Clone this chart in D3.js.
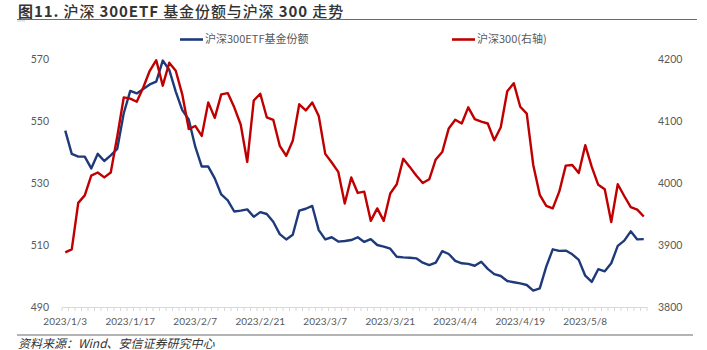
<!DOCTYPE html>
<html>
<head>
<meta charset="utf-8">
<script src="https://cdn.jsdelivr.net/npm/d3@7/dist/d3.min.js"></script>
<style>
  html, body { margin: 0; padding: 0; background: #fff; }
  svg { display: block; }
</style>
</head>
<body>
<svg id="chart" width="707" height="350"></svg>
<script>
// Trading days, 2023-01-03 to 2023-05-19
const dates = [
  "2023/1/3","2023/1/4","2023/1/5","2023/1/6","2023/1/9","2023/1/10","2023/1/11","2023/1/12","2023/1/13","2023/1/16",
  "2023/1/17","2023/1/18","2023/1/19","2023/1/20","2023/1/30","2023/1/31","2023/2/1","2023/2/2","2023/2/3","2023/2/6",
  "2023/2/7","2023/2/8","2023/2/9","2023/2/10","2023/2/13","2023/2/14","2023/2/15","2023/2/16","2023/2/17","2023/2/20",
  "2023/2/21","2023/2/22","2023/2/23","2023/2/24","2023/2/27","2023/2/28","2023/3/1","2023/3/2","2023/3/3","2023/3/6",
  "2023/3/7","2023/3/8","2023/3/9","2023/3/10","2023/3/13","2023/3/14","2023/3/15","2023/3/16","2023/3/17","2023/3/20",
  "2023/3/21","2023/3/22","2023/3/23","2023/3/24","2023/3/27","2023/3/28","2023/3/29","2023/3/30","2023/3/31","2023/4/3",
  "2023/4/4","2023/4/6","2023/4/7","2023/4/10","2023/4/11","2023/4/12","2023/4/13","2023/4/14","2023/4/17","2023/4/18",
  "2023/4/19","2023/4/20","2023/4/21","2023/4/24","2023/4/25","2023/4/26","2023/4/27","2023/4/28","2023/5/4","2023/5/5",
  "2023/5/8","2023/5/9","2023/5/10","2023/5/11","2023/5/12","2023/5/15","2023/5/16","2023/5/17","2023/5/18","2023/5/19"
];

// 沪深300ETF基金份额 (left axis)
const etfShares = [
  546.9, 539.4, 538.5, 538.5, 534.7, 539.4, 537.1, 538.9, 541.0, 552.5,
  559.7, 558.9, 560.3, 561.8, 562.7, 569.5, 566.5, 559.5, 553.5, 550.5,
  541.7, 535.3, 535.3, 531.5, 526.3, 524.4, 520.8, 521.1, 521.5, 519.1,
  520.6, 520.0, 517.5, 513.5, 511.8, 513.3, 521.1, 521.7, 522.6, 514.8,
  511.8, 512.5, 511.1, 511.3, 511.6, 512.5, 511.0, 511.9, 510.0, 509.5,
  508.8, 506.2, 506.0, 505.9, 505.7, 504.3, 503.5, 504.3, 508.0, 507.1,
  504.9, 504.1, 503.9, 503.3, 504.6, 502.3, 500.6, 500.0, 498.4, 498.0,
  497.6, 497.1, 495.3, 496.0, 503.0, 508.6, 508.1, 508.2, 507.0, 505.2,
  500.1, 498.1, 502.2, 501.5, 504.1, 509.7, 511.4, 514.4, 511.8, 511.9
];

// 沪深300 (right axis)
const csi300 = [
  3888, 3893, 3968, 3980, 4012, 4017, 4009, 4017, 4075, 4138,
  4136, 4131, 4154, 4181, 4198, 4157, 4194, 4181, 4143, 4087,
  4092, 4076, 4130, 4105, 4143, 4145, 4122, 4094, 4034, 4133,
  4144, 4106, 4102, 4060, 4044, 4068, 4127, 4117, 4130, 4108,
  4047, 4033, 4018, 3967, 4009, 3984, 3986, 3939, 3959, 3939,
  3983, 3998, 4039, 4026, 4012, 4000, 4006, 4038, 4050, 4088,
  4102, 4096, 4122, 4103, 4099, 4096, 4069, 4090, 4148, 4161,
  4123, 4112, 4029, 3981, 3963, 3959, 3986, 4028, 4029, 4016,
  4061, 4026, 3997, 3990, 3937, 3998, 3979, 3961, 3957, 3946
];

const leftTicks = [490, 510, 530, 550, 570];
const rightTicks = [3800, 3900, 4000, 4100, 4200];
const seriesNames = ["沪深300ETF基金份额", "沪深300(右轴)"];
const title = [
  { t: "图11. ", w: 700 }, { t: "沪深 ", w: 500 }, { t: "300ETF ", w: 700 },
  { t: "基金份额与沪深 ", w: 500 }, { t: "300 ", w: 700 }, { t: "走势", w: 500 }
];
const source = "资料来源：Wind、安信证券研究中心";

const BLUE = "#1f3a7a", RED = "#c00000", LABEL = "#595959";
const FONT = "'Noto Sans CJK SC', 'Noto Sans', sans-serif";
const NUMFONT = "Lato, 'Noto Sans', sans-serif";

const svg = d3.select("#chart");
const plot = { left: 62, right: 647, top: 59, bottom: 307 };

const x = d3.scaleBand().domain(dates).range([plot.left, plot.right]);
const cx = d => x(d) + x.bandwidth() / 2;
const yL = d3.scaleLinear().domain([490, 570]).range([plot.bottom, plot.top]);
const yR = d3.scaleLinear().domain([3800, 4200]).range([plot.bottom, plot.top]);

// Title and rule beneath it
const tt = svg.append("text").attr("x", 18).attr("y", 16.5)
  .attr("font-family", FONT).attr("font-size", 15).attr("letter-spacing", 0.9).attr("fill", "#333");
title.forEach(p => tt.append("tspan").attr("font-weight", p.w).text(p.t));
svg.append("line").attr("x1", 17).attr("x2", 697).attr("y1", 19.5).attr("y2", 19.5)
  .attr("stroke", "#6b6b6b").attr("stroke-width", 1.2);
svg.append("line").attr("x1", 17).attr("x2", 25).attr("y1", 21).attr("y2", 21)
  .attr("stroke", "#cfcfcf").attr("stroke-width", 1);

// Left axis labels
const gl = svg.append("g").attr("transform", `translate(${plot.left},0)`)
  .call(d3.axisLeft(yL).tickValues(leftTicks).tickFormat(d3.format("d")).tickSize(0).tickPadding(13));
gl.select(".domain").remove();

// Right axis labels
const gr = svg.append("g").attr("transform", `translate(${plot.right},0)`)
  .call(d3.axisRight(yR).tickValues(rightTicks).tickFormat(d3.format("d")).tickSize(0).tickPadding(11));
gr.select(".domain").remove();

[gl, gr].forEach(g => g.selectAll("text")
  .attr("font-family", NUMFONT).attr("font-size", 10.5).attr("fill", LABEL));

// Category axis: baseline, a tick at every category boundary, a label every 10 days
const gx = svg.append("g").attr("transform", `translate(0,${plot.bottom})`)
  .call(d3.axisBottom(x).tickValues(dates.filter((d, i) => i % 10 === 0)).tickSize(0).tickPadding(11));
gx.select(".domain").attr("stroke", "#d9d9d9").attr("stroke-width", 1);
gx.selectAll("text").attr("font-family", NUMFONT).attr("font-size", 10).attr("fill", LABEL);
const bounds = dates.map(d => x(d)).concat([plot.right]);
gx.selectAll("line.cat").data(bounds).enter().append("line").attr("class", "cat")
  .attr("x1", d => d).attr("x2", d => d).attr("y1", 0).attr("y2", 4)
  .attr("stroke", "#d9d9d9").attr("stroke-width", 1);

// Series lines
const lineL = d3.line().x((v, i) => cx(dates[i])).y(v => yL(v));
const lineR = d3.line().x((v, i) => cx(dates[i])).y(v => yR(v));
svg.append("path").datum(etfShares).attr("d", lineL)
  .attr("fill", "none").attr("stroke", BLUE).attr("stroke-width", 2.4).attr("stroke-linejoin", "round");
svg.append("path").datum(csi300).attr("d", lineR)
  .attr("fill", "none").attr("stroke", RED).attr("stroke-width", 2.4).attr("stroke-linejoin", "round");

// Legend
const legend = [
  { name: seriesNames[0], color: BLUE, x: 180 },
  { name: seriesNames[1], color: RED, x: 452 }
];
const lg = svg.append("g").selectAll("g").data(legend).enter().append("g")
  .attr("transform", d => `translate(${d.x},39.5)`);
lg.append("line").attr("x1", 0).attr("x2", 23).attr("stroke", d => d.color).attr("stroke-width", 2.6);
lg.append("text").attr("x", 25).attr("dy", "0.35em").text(d => d.name)
  .attr("font-family", FONT).attr("font-size", 11).attr("fill", LABEL);

// Footer rule and source note
svg.append("line").attr("x1", 17).attr("x2", 693).attr("y1", 335).attr("y2", 335)
  .attr("stroke", "#6b6b6b").attr("stroke-width", 1.2);
svg.append("text").attr("x", 18).attr("y", 348).text(source)
  .attr("font-family", FONT).attr("font-size", 12).attr("font-style", "italic").attr("fill", "#333");
</script>
</body>
</html>
